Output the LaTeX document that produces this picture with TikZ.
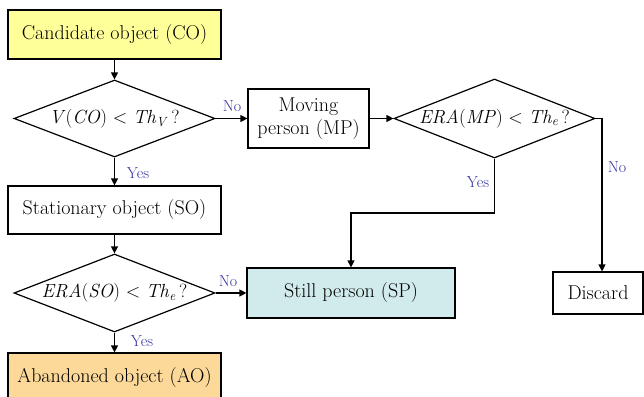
\documentclass[tikz,border=0pt]{standalone}
\usepackage{fontspec}
\usetikzlibrary{shapes.geometric,arrows.meta}
\definecolor{coyellow}{RGB}{255,255,153}
\definecolor{aoorange}{RGB}{252,217,153}
\definecolor{spcyan}{RGB}{209,234,236}
\definecolor{lblblue}{RGB}{50,50,160}
\tikzset{
  box/.style={draw, line width=1.2pt, inner sep=0pt, font=\fontsize{20}{23}\selectfont, align=center},
  dia/.style={draw, diamond, line width=1.2pt, inner sep=0pt, font=\fontsize{19}{22}\selectfont},
  conn/.style={line width=1.2pt, -{Triangle[length=7pt,width=7pt]}},
  lbl/.style={text=lblblue, font=\fontsize{16}{18}\selectfont, inner sep=0pt}
}
\newcommand{\dtext}[1]{\makebox[0pt]{#1}}
\begin{document}
\begin{tikzpicture}[x=1pt,y=-1pt]
\useasboundingbox (0,0) rectangle (644,396);
\node[box, fill=coyellow, minimum width=213pt, minimum height=49pt] (co) at (114.5,34.5) {Candidate object (CO)};
\node[dia, minimum width=201pt, minimum height=77pt] (d1) at (114.5,118.5) {\dtext{\textit{V}(\textit{CO}) < \textit{Th}\textsubscript{\textit{V}}\,?}};
\node[box, minimum width=121pt, minimum height=59pt] (mp) at (308.5,118.5) {Moving\\person (MP)};
\node[dia, minimum width=201pt, minimum height=79pt] (d2) at (494.5,118.5) {\dtext{\textit{ERA}(\textit{MP}) < \textit{Th}\textsubscript{\textit{e}}\,?}};
\node[box, minimum width=213pt, minimum height=48pt] (so) at (114.5,210) {Stationary object (SO)};
\node[dia, minimum width=201pt, minimum height=78pt] (d3) at (114.5,293) {\dtext{\textit{ERA}(\textit{SO}) < \textit{Th}\textsubscript{\textit{e}}\,?}};
\node[box, fill=spcyan, minimum width=208pt, minimum height=50pt] (sp) at (351,293) {Still person (SP)};
\node[box, minimum width=90pt, minimum height=42pt] (dc) at (598,293) {Discard};
\node[box, fill=aoorange, minimum width=213pt, minimum height=50pt] (ao) at (114.5,378) {Abandoned object (AO)};

\coordinate (c1) at (602,118.5);
\coordinate (c2) at (494.5,213);
\coordinate (c3) at (351,213);

\draw[conn] (co.south) -- (d1.north);
\draw[conn] (d1.east) -- (mp.west);
\draw[conn] (mp.east) -- (d2.west);
\draw[conn] (d1.south) -- (so.north);
\draw[conn] (so.south) -- (d3.north);
\draw[conn] (d3.east) -- (sp.west);
\draw[conn] (d3.south) -- (ao.north);
\draw[conn] (d2.south) -- (c2) -- (c3) -- (sp.north);
\draw[conn] (d2.east) -- (c1) -- (c1 |- dc.north);

\node[lbl] (l1) at (232,106) {No};
\node[lbl] (l2) at (138,173) {Yes};
\node[lbl] (l3) at (228,281) {No};
\node[lbl] (l4) at (142,341) {Yes};
\node[lbl] (l5) at (478,182) {Yes};
\node[lbl] (l6) at (617,167) {No};
\end{tikzpicture}
\end{document}
